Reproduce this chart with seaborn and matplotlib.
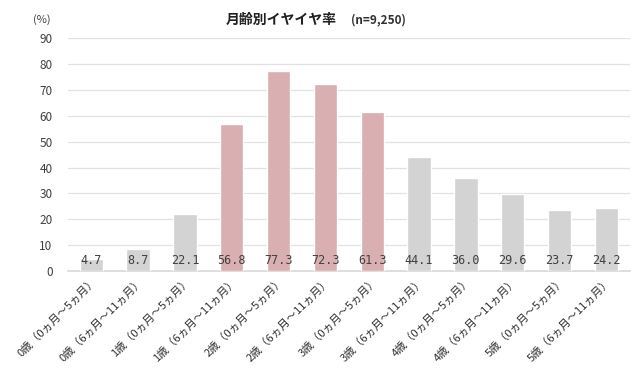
import matplotlib
matplotlib.use("Agg")
import matplotlib.pyplot as plt
import seaborn as sns
import pandas as pd

categories = ["0歳（0ヵ月～5ヵ月）", "0歳（6ヵ月～11ヵ月）", "1歳（0ヵ月～5ヵ月）", "1歳（6ヵ月～11ヵ月）",
              "2歳（0ヵ月～5ヵ月）", "2歳（6ヵ月～11ヵ月）", "3歳（0ヵ月～5ヵ月）", "3歳（6ヵ月～11ヵ月）",
              "4歳（0ヵ月～5ヵ月）", "4歳（6ヵ月～11ヵ月）", "5歳（0ヵ月～5ヵ月）", "5歳（6ヵ月～11ヵ月）"]
values = [4.7, 8.7, 22.1, 56.8, 77.3, 72.3, 61.3, 44.1, 36.0, 29.6, 23.7, 24.2]
highlight = [False, False, False, True, True, True, True, False, False, False, False, False]
yticks = [0, 10, 20, 30, 40, 50, 60, 70, 80, 90]

sns.set_theme(style="white")
plt.rcParams['font.family'] = ['Noto Sans CJK JP', 'DejaVu Sans']

df = pd.DataFrame({"cat": categories, "val": values,
                   "grp": ["hi" if h else "lo" for h in highlight]})

fig = plt.figure(figsize=(6.4, 3.77), dpi=100)
ax = fig.add_axes([0.106, 0.281, 0.878, 0.618])
sns.barplot(data=df, x="cat", y="val", hue="grp", dodge=False, width=0.5,
            palette={"hi": "#e0a8ab", "lo": "#d3d3d3"}, legend=False, ax=ax, zorder=3)

ax.set_ylim(0, 90)
ax.set_yticks(yticks)
ax.set_xlim(-0.5, len(categories) - 0.5)
ax.grid(axis="y", color="#e2e2e2", linewidth=0.9, zorder=0)
for s in ["top", "right", "left"]:
    ax.spines[s].set_visible(False)
ax.spines["bottom"].set_color("#d9d9d9")
ax.set_xlabel("")
ax.set_ylabel("")
ax.tick_params(axis="y", length=0, labelsize=8.5, labelcolor="#404040", pad=11)
ax.tick_params(axis="x", length=0, labelsize=8, labelcolor="#303030", pad=3)
plt.setp(ax.get_xticklabels(), rotation=45, ha="right", rotation_mode="anchor")

for i, v in enumerate(values):
    ax.text(i, 4.2, f"{v:.1f}", ha="center", va="center", fontsize=8.5,
            family="DejaVu Sans Mono", color="#404040", zorder=4)

fig.text(0.065, 0.947, "(%)", fontsize=8, color="#404040", ha="center", va="center")
fig.text(0.44, 0.947, "月齢別イヤイヤ率", fontsize=10, fontweight="bold", color="#202020",
         ha="center", va="center")
fig.text(0.592, 0.947, "(n=9,250)", fontsize=8.5, fontweight="bold", color="#303030",
         ha="center", va="center")

fig.savefig("out.png", dpi=100)
